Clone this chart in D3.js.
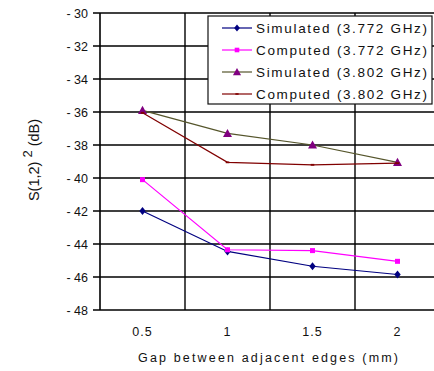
<!DOCTYPE html>
<html>
<head>
<meta charset="utf-8">
<script src="https://cdn.jsdelivr.net/npm/d3@7/dist/d3.min.js"></script>
<style>
  html, body { margin: 0; padding: 0; background: #fff; }
  svg { display: block; font-family: "Liberation Sans", Arial, sans-serif; }
</style>
</head>
<body>
<svg id="chart" width="434" height="371"></svg>
<script>
// Gap between adjacent edges (mm)
const gaps = ["0.5", "1", "1.5", "2"];
// |S(1,2)|^2 in dB
const sim3772 = [-42.0, -44.45, -45.35, -45.85];
const comp3772 = [-40.1, -44.35, -44.4, -45.05];
const sim3802 = [-35.9, -37.3, -38.0, -39.05];
const comp3802 = [-36.05, -39.05, -39.2, -39.1];
const yTicks = [-30, -32, -34, -36, -38, -40, -42, -44, -46, -48];

const series = [
  { name: "Simulated (3.772 GHz)", values: sim3772, line: "#000080", fill: "#000080", shape: "diamond", size: 4 },
  { name: "Computed (3.772 GHz)", values: comp3772, line: "#ff00ff", fill: "#ff00ff", shape: "square", size: 4 },
  { name: "Simulated (3.802 GHz)", values: sim3802, line: "#55552b", fill: "#800080", shape: "triangle", size: 4.5 },
  { name: "Computed (3.802 GHz)", values: comp3802, line: "#800000", fill: "#800000", shape: "dot", size: 1.8 }
];

const svg = d3.select("#chart");
const plotL = 100, plotR = 440, plotT = 13, plotB = 310;

const x = d3.scaleBand().domain(gaps).range([plotL, plotR]);
const y = d3.scaleLinear().domain([-48, -30]).range([plotB, plotT]);
const cx = d => x(d) + x.bandwidth() / 2;

// horizontal grid
svg.append("g").selectAll("line").data(yTicks).join("line")
  .attr("x1", plotL - 7).attr("x2", plotR)
  .attr("y1", d => y(d)).attr("y2", d => y(d))
  .attr("stroke", "#000").attr("stroke-width", 1.4);

// vertical grid at category boundaries
svg.append("g").selectAll("line").data(gaps.slice(1)).join("line")
  .attr("x1", d => x(d)).attr("x2", d => x(d))
  .attr("y1", plotT).attr("y2", plotB)
  .attr("stroke", "#000").attr("stroke-width", 1.4);

// y axis line
svg.append("line").attr("x1", plotL).attr("x2", plotL).attr("y1", plotT).attr("y2", plotB)
  .attr("stroke", "#000").attr("stroke-width", 1.6);

// y tick labels
svg.append("g").selectAll("text").data(yTicks).join("text")
  .attr("x", 88).attr("y", d => y(d)).attr("dy", "0.36em")
  .attr("text-anchor", "end").attr("font-size", 12.5).attr("fill", "#111")
  .text(d => "- " + Math.abs(d));

// x tick labels
svg.append("g").selectAll("text").data(gaps).join("text")
  .attr("x", d => cx(d)).attr("y", 336)
  .attr("text-anchor", "middle").attr("font-size", 12.5).attr("fill", "#111")
  .style("letter-spacing", "1px")
  .text(d => d);

// axis titles
svg.append("text").attr("x", 268).attr("y", 362).attr("text-anchor", "middle")
  .attr("font-size", 12.5).attr("fill", "#111").attr("textLength", 260)
  .text("Gap between adjacent edges (mm)");

const yt = svg.append("text").attr("transform", "translate(39,160) rotate(-90)")
  .attr("text-anchor", "middle").attr("font-size", 14.5).attr("fill", "#111");
yt.append("tspan").text("S(1,2) ");
yt.append("tspan").attr("dy", -7).attr("font-size", 13).text("2");
yt.append("tspan").attr("dy", 7).text(" (dB)");

// marker drawing
function marker(g, shape, size, fill) {
  if (shape === "diamond") {
    g.append("path").attr("d", `M0,${-size}L${size * 0.8},0L0,${size}L${-size * 0.8},0Z`).attr("fill", fill);
  } else if (shape === "square") {
    g.append("rect").attr("x", -size / 2 - 0.5).attr("y", -size / 2 - 0.5).attr("width", size + 1).attr("height", size + 1).attr("fill", fill);
  } else if (shape === "triangle") {
    g.append("path").attr("d", `M0,${-size}L${size},${size * 0.8}L${-size},${size * 0.8}Z`).attr("fill", fill);
  } else {
    g.append("rect").attr("x", -size).attr("y", -size / 2).attr("width", size * 2).attr("height", size).attr("fill", fill);
  }
}

const line = d3.line().x((d, i) => cx(gaps[i])).y(d => y(d));
series.forEach(s => {
  svg.append("path").attr("d", line(s.values)).attr("fill", "none")
    .attr("stroke", s.line).attr("stroke-width", 1.2);
  s.values.forEach((v, i) => {
    const g = svg.append("g").attr("transform", `translate(${cx(gaps[i])},${y(v)})`);
    marker(g, s.shape, s.size, s.fill);
  });
});

// legend
const lg = svg.append("g");
lg.append("rect").attr("x", 208).attr("y", 16).attr("width", 224).attr("height", 88)
  .attr("fill", "#fff").attr("stroke", "#111").attr("stroke-width", 1.2);
series.forEach((s, i) => {
  const ly = 28 + i * 22;
  lg.append("line").attr("x1", 222).attr("x2", 252).attr("y1", ly).attr("y2", ly)
    .attr("stroke", s.line).attr("stroke-width", 1.2);
  const g = lg.append("g").attr("transform", `translate(237,${ly})`);
  marker(g, s.shape, s.size * 0.9, s.fill);
  lg.append("text").attr("x", 256).attr("y", ly).attr("dy", "0.36em")
    .attr("font-size", 13.5).attr("fill", "#111").attr("textLength", 171)
    .text(s.name);
});
</script>
</body>
</html>
